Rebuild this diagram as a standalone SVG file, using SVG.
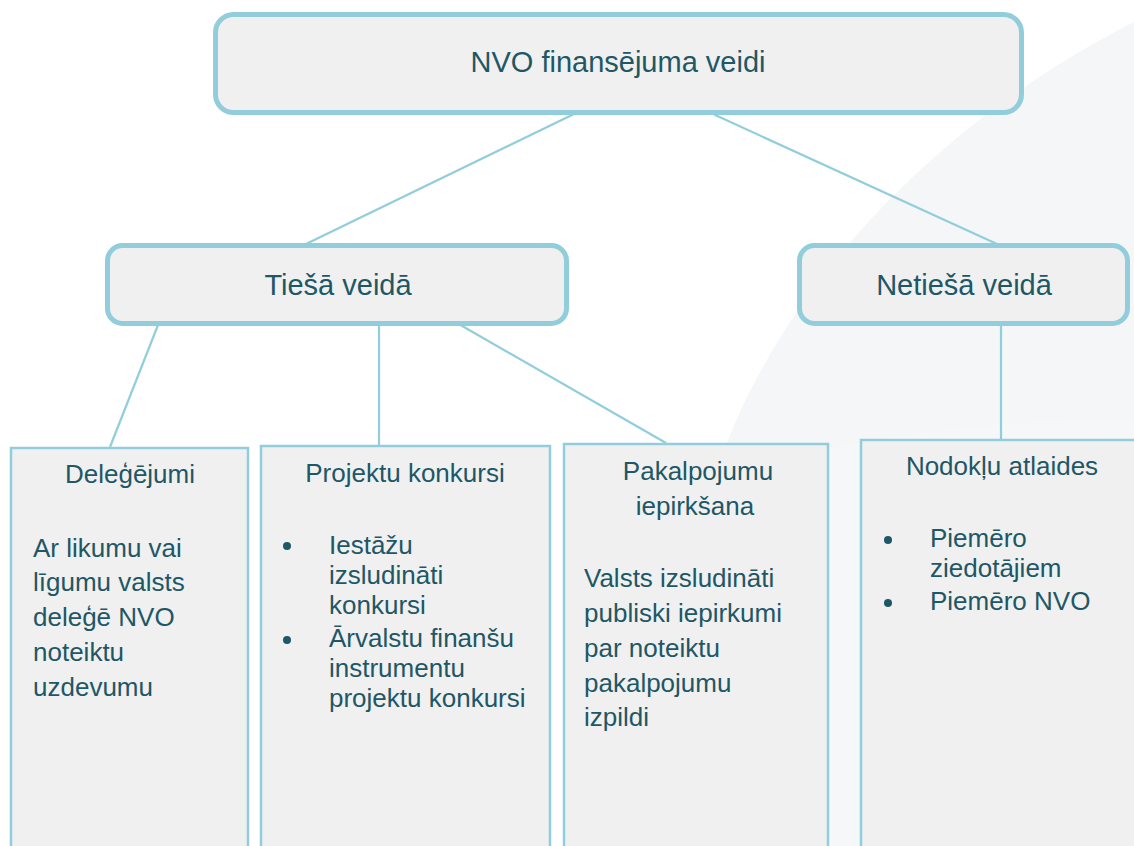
<svg xmlns="http://www.w3.org/2000/svg" width="1134" height="846" viewBox="0 0 1134 846">
  <style>
    .hdr { fill: #f0f0f0; stroke: #92cddc; stroke-width: 5; }
    .box { fill: #f0f0f0; stroke: #92cddc; stroke-width: 2.5; }
    .conn { stroke: #92cddc; stroke-width: 2.2; fill: none; }
    text { font-family: "Liberation Sans", Arial, sans-serif; fill: #1e5766; }
    .h { font-size: 29px; text-anchor: middle; }
    .t { font-size: 26px; }
    .c { text-anchor: middle; }
    .dot { fill: #1e5766; }
  </style>
  <rect width="1134" height="846" fill="#ffffff"/>
  <g id="background">
    <path d="M 1134 22 C 960 110 800 260 728 440 C 690 540 660 680 640 846 L 1134 846 Z" fill="#f4f6f7"/>
    <path d="M 1134 418 C 980 420 830 440 700 480 L 640 846 L 1134 846 Z" fill="#f6f7f8"/>
  </g>
  <g id="connectors">
    <line class="conn" x1="574" y1="114" x2="306" y2="244"/>
    <line class="conn" x1="713" y1="114" x2="997" y2="244"/>
    <line class="conn" x1="158" y1="325" x2="110" y2="447"/>
    <line class="conn" x1="379" y1="325" x2="379" y2="446"/>
    <line class="conn" x1="457" y1="323" x2="666" y2="443"/>
    <line class="conn" x1="1001" y1="325" x2="1001" y2="440"/>
  </g>
  <g id="node-root">
    <rect class="hdr" x="215.5" y="14.5" width="806" height="98" rx="18"/>
    <text class="h" x="618" y="72">NVO finansējuma veidi</text>
  </g>
  <g id="node-tiesa">
    <rect class="hdr" x="107.5" y="245.5" width="459" height="78" rx="15"/>
    <text class="h" x="338" y="295">Tiešā veidā</text>
  </g>
  <g id="node-netiesa">
    <rect class="hdr" x="799.5" y="245.5" width="328" height="78" rx="15"/>
    <text class="h" x="964" y="295">Netiešā veidā</text>
  </g>
  <g id="node-delegejumi">
    <rect class="box" x="11" y="448" width="237" height="410"/>
    <text class="t c" x="130" y="483">Deleģējumi</text>
    <text class="t" x="33" y="557">Ar likumu vai</text>
    <text class="t" x="33" y="591">līgumu valsts</text>
    <text class="t" x="33" y="626">deleģē NVO</text>
    <text class="t" x="33" y="661">noteiktu</text>
    <text class="t" x="33" y="696">uzdevumu</text>
  </g>
  <g id="node-projektu">
    <rect class="box" x="261" y="446" width="289" height="412"/>
    <text class="t c" x="405" y="482">Projektu konkursi</text>
    <circle class="dot" cx="287" cy="546" r="4"/>
    <text class="t" x="329" y="554">Iestāžu</text>
    <text class="t" x="329" y="584">izsludināti</text>
    <text class="t" x="329" y="614">konkursi</text>
    <circle class="dot" cx="287" cy="640" r="4"/>
    <text class="t" x="329" y="647">Ārvalstu finanšu</text>
    <text class="t" x="329" y="677">instrumentu</text>
    <text class="t" x="329" y="707">projektu konkursi</text>
  </g>
  <g id="node-pakalpojumu">
    <rect class="box" x="564" y="444" width="264" height="414"/>
    <text class="t c" x="698" y="480">Pakalpojumu</text>
    <text class="t c" x="695" y="515">iepirkšana</text>
    <text class="t" x="584" y="587">Valsts izsludināti</text>
    <text class="t" x="584" y="622">publiski iepirkumi</text>
    <text class="t" x="584" y="657">par noteiktu</text>
    <text class="t" x="584" y="692">pakalpojumu</text>
    <text class="t" x="584" y="726">izpildi</text>
  </g>
  <g id="node-nodoklu">
    <rect class="box" x="861" y="440" width="290" height="418"/>
    <text class="t c" x="1002" y="475">Nodokļu atlaides</text>
    <circle class="dot" cx="888" cy="540" r="4"/>
    <text class="t" x="930" y="547">Piemēro</text>
    <text class="t" x="930" y="577">ziedotājiem</text>
    <circle class="dot" cx="888" cy="603" r="4"/>
    <text class="t" x="930" y="610">Piemēro NVO</text>
  </g>
</svg>
